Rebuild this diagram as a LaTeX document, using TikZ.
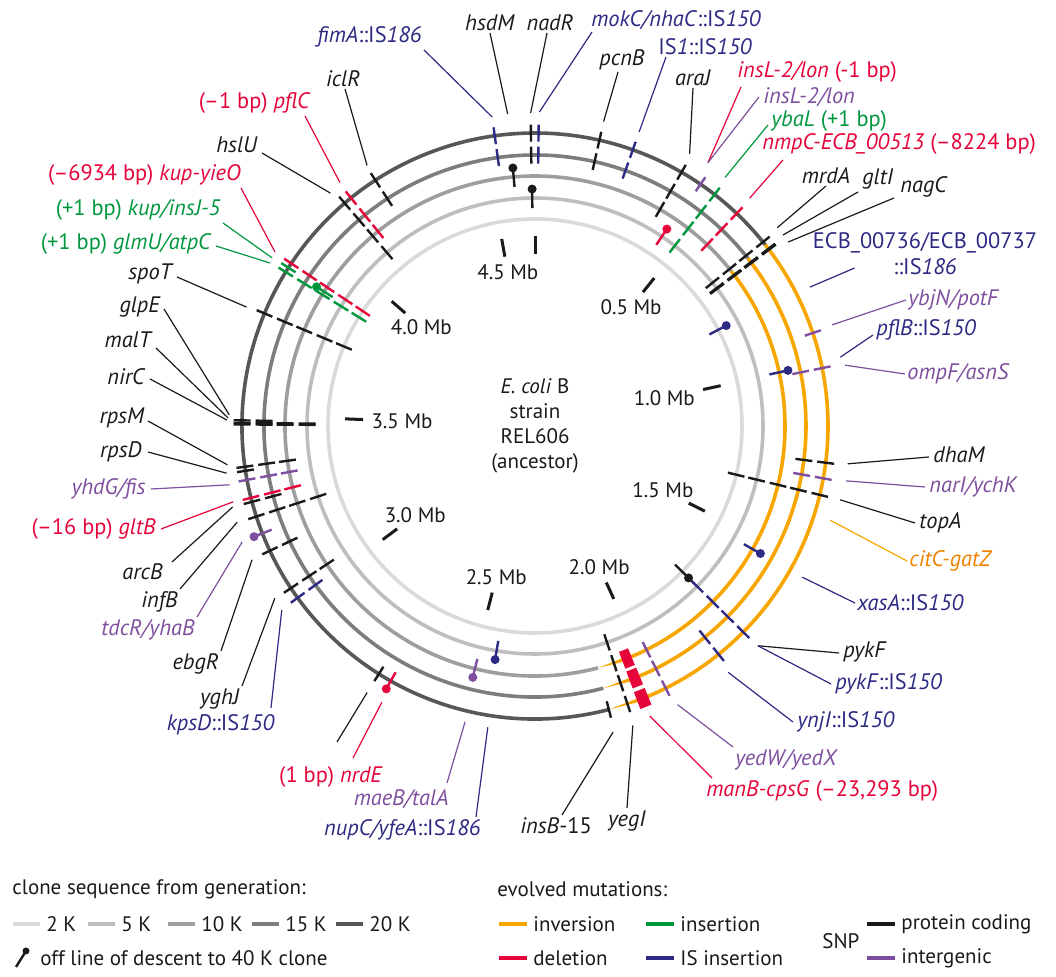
\documentclass[tikz,border=0pt]{standalone}
\usepackage{fontspec}
\setmainfont{PT Sans}
\usetikzlibrary{calc}
\definecolor{ring2}{HTML}{DADADA}
\definecolor{ring5}{HTML}{BEBEBE}
\definecolor{ring10}{HTML}{9E9E9E}
\definecolor{ring15}{HTML}{7D7D7D}
\definecolor{ring20}{HTML}{575757}
\definecolor{invorange}{HTML}{F7A600}
\definecolor{invtext}{HTML}{F08200}
\definecolor{delred}{HTML}{E5053A}
\definecolor{insgreen}{HTML}{00973F}
\definecolor{isblue}{HTML}{2D2A84}
\definecolor{codeblack}{HTML}{1A1A1A}
\definecolor{interpurple}{HTML}{7E4F9E}
\tikzset{
  ringline/.style={line width=1.8pt},
  mutline/.style={line width=1.2pt},
  leader/.style={line width=0.6pt},
  mbtick/.style={line width=1.5pt, draw=codeblack},
  lab/.style={inner sep=1pt, text=codeblack},
  glab/.style={lab, font=\fontsize{11.2}{13}\selectfont}
}
% dashes across every ring from ring #2 (1=2K ... 5=20K) outwards
\newcommand{\mutmark}[3]{%
  \foreach \rr [count=\ri] in {207,228,250,271,293}{%
    \ifnum\ri<#2\relax\else
      \draw[mutline,#3] ({#1}:{\rr-8.5}) -- ({#1}:{\rr+8.5});
    \fi}}
% off line of descent: one ring, dot outside
\newcommand{\lolli}[3]{%
  \draw[mutline,#3] ({#1}:{#2-10}) -- ({#1}:{#2+9});
  \fill[#3] ({#1}:{#2+9}) circle[radius=4.5]}

\begin{document}
\begin{tikzpicture}[x=0.5pt,y=-0.5pt,font=\fontsize{10.5}{12.5}\selectfont]
  \useasboundingbox (0,0) rectangle (1056,977);

  \begin{scope}[shift={(535,426)}]
    % clone rings
    \draw[ringline,ring2] (0,0) circle[radius=207];
    \draw[ringline,ring5] (0,0) circle[radius=228];
    \foreach \r/\col in {250/ring10,271/ring15,293/ring20}{
      \draw[ringline,\col] (75.4:\r) arc[start angle=75.4,end angle=321.8,radius=\r];
      \draw[ringline,invorange] (-38.2:\r) arc[start angle=-38.2,end angle=69.6,radius=\r];
      \fill[invorange] (75.4:\r) -- ({69.6}:{\r+1.8}) -- ({69.6}:{\r-1.8}) -- cycle;
      \draw[delred,line width=9pt] (67.3:\r) arc[start angle=67.3,end angle=69.6,radius=\r];
    }

    % Mb scale
    \draw[mbtick] (-90:172) -- (-90:190);
    \foreach \m [count=\k] in {0.5,1.0,1.5,2.0,2.5,3.0,3.5,4.0,4.5}{
      \pgfmathsetmacro\a{-90+\m*360/4.6298}
      \pgfmathsetmacro\b{-\a}
      \draw[mbtick] (\a:172) -- (\a:190);
      \node[lab,anchor=\b] (mb\k) at (\a:166) {\m\ Mb};
    }
    \node[lab,align=center] (ecoli) at (0,0) {\textit{E. coli} B\\strain\\REL606\\(ancestor)};

    % mutations
    \mutmark{-97.9}{4}{isblue}
    \lolli{-94.9}{250}{codeblack};
    \mutmark{-90.8}{4}{codeblack}
    \lolli{-90.7}{228}{codeblack};
    \mutmark{-89.3}{4}{isblue}
    \mutmark{-77.3}{4}{codeblack}
    \mutmark{-70.5}{4}{isblue}
    \mutmark{-60.0}{3}{codeblack}
    \lolli{-56.2}{228}{delred};
    \mutmark{-55.6}{5}{interpurple}
    \mutmark{-52.2}{2}{insgreen}
    \mutmark{-46.5}{3}{delred}
    \mutmark{-38.9}{2}{codeblack}
    \mutmark{-37.2}{2}{codeblack}
    \mutmark{-37.0}{2}{codeblack}
    \lolli{-27.7}{207}{isblue};
    \mutmark{-18.5}{5}{interpurple}
    \lolli{-12.4}{250}{isblue};
    \mutmark{-11.4}{4}{interpurple}
    \mutmark{7.2}{4}{codeblack}
    \mutmark{10.3}{4}{interpurple}
    \mutmark{13.6}{1}{codeblack}
    \lolli{29.5}{250}{isblue};
    \mutmark{44.7}{2}{isblue}
    \lolli{44.7}{207}{codeblack};
    \mutmark{51.2}{4}{isblue}
    \mutmark{63.5}{3}{interpurple}
    \mutmark{71.6}{2}{codeblack}
    \mutmark{75.4}{5}{codeblack}
    \lolli{99.7}{228}{isblue};
    \lolli{103.9}{250}{interpurple};
    \lolli{119.5}{293}{delred};
    \mutmark{122.2}{5}{codeblack}
    \mutmark{144.1}{4}{isblue}
    \mutmark{146.4}{3}{codeblack}
    \mutmark{154.8}{4}{codeblack}
    \lolli{158.5}{293}{interpurple};
    \mutmark{162.0}{2}{codeblack}
    \mutmark{165.0}{4}{codeblack}
    \mutmark{165.8}{3}{delred}
    \mutmark{169.4}{3}{interpurple}
    \mutmark{171.2}{5}{codeblack}
    \mutmark{172.0}{3}{codeblack}
    \mutmark{180.3}{2}{codeblack}
    \mutmark{180.6}{2}{codeblack}
    \mutmark{181.1}{4}{codeblack}
    \mutmark{202.6}{1}{codeblack}
    \mutmark{211.7}{1}{insgreen}
    \mutmark{212.7}{5}{insgreen}
    \lolli{212.5}{250}{insgreen};
    \mutmark{213.7}{1}{delred}
    \mutmark{229.5}{2}{codeblack}
    \mutmark{231.1}{3}{delred}
    \mutmark{237.0}{4}{codeblack}

    % leader ends
    \coordinate (fimA-m) at (-97.9:312);
    \coordinate (hsdM-m) at (-95.0:313);
    \coordinate (nadR-m) at (-90.8:313);
    \coordinate (mokC-m) at (-89.2:314);
    \coordinate (pcnB-m) at (-77.3:312);
    \coordinate (IS1-m) at (-70.5:312);
    \coordinate (araJ-m) at (-60.4:313);
    \coordinate (insL-m) at (-56.7:315);
    \coordinate (ybaL-m) at (-52.6:313);
    \coordinate (nmpC-m) at (-46.7:313);
    \coordinate (mrdA-m) at (-39.3:313);
    \coordinate (gltI-m) at (-37.6:313);
    \coordinate (nagC-m) at (-36.0:313);
    \coordinate (ECB-m) at (-26.8:308);
    \coordinate (ybjN-m) at (-18.8:314);
    \coordinate (pflB-m) at (-12.7:313);
    \coordinate (ompF-m) at (-11.1:316);
    \coordinate (dhaM-m) at (6.9:315);
    \coordinate (narI-m) at (10.0:316);
    \coordinate (topA-m) at (13.6:314);
    \coordinate (citC-m) at (17.7:310);
    \coordinate (xasA-m) at (29.5:307);
    \coordinate (pykF-m) at (44.6:313);
    \coordinate (ynjI-m) at (51.9:313);
    \coordinate (yedW-m) at (62.9:313);
    \coordinate (manB-m) at (68.4:312);
    \coordinate (yegI-m) at (71.9:315);
    \coordinate (insB-m) at (75.7:316);
    \coordinate (nupC-m) at (98.9:305);
    \coordinate (maeB-m) at (103.3:304);
    \coordinate (nrdE-m) at (119.0:316);
    \coordinate (nrdEsnp-m) at (122.2:315);
    \coordinate (kpsD-m) at (144.0:313);
    \coordinate (yghJ-m) at (146.5:312);
    \coordinate (ebgR-m) at (154.7:313);
    \coordinate (tdcR-m) at (158.4:315);
    \coordinate (infB-m) at (162.1:313);
    \coordinate (arcB-m) at (165.0:313);
    \coordinate (gltB-m) at (165.9:311);
    \coordinate (yhdG-m) at (169.1:311);
    \coordinate (rpsD-m) at (171.3:312);
    \coordinate (rpsM-m) at (172.8:310);
    \coordinate (nirC-m) at (181.1:308);
    \coordinate (malT-m) at (181.5:307);
    \coordinate (glpE-m) at (182.1:306);
    \coordinate (spoT-m) at (202.4:312);
    \coordinate (glmU-m) at (211.6:311);
    \coordinate (kupI-m) at (212.6:312);
    \coordinate (kupY-m) at (213.8:313);
    \coordinate (hslU-m) at (228.7:310);
    \coordinate (pflC-m) at (231.3:312);
    \coordinate (iclR-m) at (237.2:310);
  \end{scope}

  % labels, top
  \node[glab,text=isblue,anchor=south east] (fimA) at (424,50) {\textit{fimA}::IS\textit{186}};
  \node[glab,anchor=south] (hsdM) at (490,33) {\textit{hsdM}};
  \node[glab,anchor=south] (nadR) at (550,33) {\textit{nadR}};
  \node[glab,text=isblue,anchor=south west] (mokC) at (589,32) {\textit{mokC/nhaC}::IS\textit{150}};
  \node[glab,anchor=south] (pcnB) at (622,72) {\textit{pcnB}};
  \node[glab,text=isblue,anchor=south west] (IS1) at (656,57) {IS\textit{1}::IS\textit{150}};
  \node[glab,anchor=south] (araJ) at (693,88) {\textit{araJ}};
  \node[glab,text=delred,anchor=south west] (insLdel) at (735,85) {\textit{insL-2/lon} (-1 bp)};
  \node[glab,text=interpurple,anchor=west] (insLsnp) at (761,97) {\textit{insL-2/lon}};
  \node[glab,text=insgreen,anchor=west] (ybaL) at (769,121) {\textit{ybaL} (+1 bp)};
  \node[glab,text=delred,anchor=south west] (nmpC) at (760,157) {\textit{nmpC-ECB\_00513} (--8224 bp)};
  \node[glab,anchor=south] (mrdA) at (826,186) {\textit{mrdA}};
  \node[glab,anchor=south west] (gltI) at (860,192) {\textit{gltI}};
  \node[glab,anchor=south west] (nagC) at (898,200) {\textit{nagC}};

  % labels, right
  \node[glab,text=isblue,align=center,anchor=north] (ECB) at (925,230) {ECB\_00736/ECB\_00737\\::IS\textit{186}};
  \node[glab,text=interpurple,anchor=west] (ybjN) at (906,300) {\textit{ybjN/potF}};
  \node[glab,text=isblue,anchor=west] (pflB) at (874,330) {\textit{pflB}::IS\textit{150}};
  \node[glab,text=interpurple,anchor=west] (ompF) at (905,374) {\textit{ompF/asnS}};
  \node[glab,anchor=west] (dhaM) at (931,455) {\textit{dhaM}};
  \node[glab,text=interpurple,anchor=west] (narI) at (927,487) {\textit{narI/ychK}};
  \node[glab,anchor=west] (topA) at (917,523) {\textit{topA}};
  \node[glab,text=invtext,anchor=west] (citC) at (907,561) {\textit{citC-gatZ}};
  \node[glab,text=isblue,anchor=west] (xasA) at (855,603) {\textit{xasA}::IS\textit{150}};
  \node[glab,anchor=west] (pykF) at (841,652) {\textit{pykF}};
  \node[glab,text=isblue,anchor=west] (pykFIS) at (833,684) {\textit{pykF}::IS\textit{150}};
  \node[glab,text=isblue,anchor=west] (ynjI) at (795,722) {\textit{ynjI}::IS\textit{150}};

  % labels, bottom
  \node[glab,text=interpurple,anchor=north west] (yedW) at (733,747) {\textit{yedW/yedX}};
  \node[glab,text=delred,anchor=north west] (manB) at (704,778) {\textit{manB-cpsG} (--23,293 bp)};
  \node[glab,anchor=north] (yegI) at (627,808) {\textit{yegI}};
  \node[glab,anchor=north] (insB) at (556,815) {\textit{insB}-15};
  \node[glab,text=isblue,anchor=north east] (nupC) at (483,817) {\textit{nupC/yfeA}::IS\textit{186}};
  \node[glab,text=interpurple,anchor=north east] (maeB) at (451,787) {\textit{maeB/talA}};
  \node[glab,text=delred,anchor=north] (nrdE) at (331,764) {(1 bp) \textit{nrdE}};

  % labels, left
  \node[glab,text=isblue,anchor=north east] (kpsD) at (277,712) {\textit{kpsD}::IS\textit{150}};
  \node[glab,anchor=north east] (yghJ) at (242,686) {\textit{yghJ}};
  \node[glab,anchor=north east] (ebgR) at (221,651) {\textit{ebgR}};
  \node[glab,text=interpurple,anchor=north east] (tdcR) at (197,617) {\textit{tdcR/yhaB}};
  \node[glab,anchor=north east] (infB) at (180,589) {\textit{infB}};
  \node[glab,anchor=north east] (arcB) at (165,561) {\textit{arcB}};
  \node[glab,text=delred,anchor=east] (gltB) at (158,529) {(--16 bp) \textit{gltB}};
  \node[glab,text=interpurple,anchor=east] (yhdG) at (148,489) {\textit{yhdG/fis}};
  \node[glab,anchor=east] (rpsD) at (144,452) {\textit{rpsD}};
  \node[glab,anchor=east] (rpsM) at (147,418) {\textit{rpsM}};
  \node[glab,anchor=east] (nirC) at (148,377) {\textit{nirC}};
  \node[glab,anchor=south east] (malT) at (155,350) {\textit{malT}};
  \node[glab,anchor=east] (glpE) at (163,307) {\textit{glpE}};
  \node[glab,anchor=east] (spoT) at (176,274) {\textit{spoT}};
  \node[glab,text=insgreen,anchor=east] (glmU) at (214,244) {(+1 bp) \textit{glmU/atpC}};
  \node[glab,text=insgreen,anchor=south east] (kupI) at (223,223) {(+1 bp) \textit{kup/insJ-5}};
  \node[glab,text=delred,anchor=south east] (kupY) at (243,188) {(--6934 bp) \textit{kup-yieO}};
  \node[glab,anchor=south east] (hslU) at (260,155) {\textit{hslU}};
  \node[glab,text=delred,anchor=south east] (pflC) at (313,116) {(--1 bp) \textit{pflC}};
  \node[glab,anchor=south] (iclR) at (343,89) {\textit{iclR}};

  % leaders
  \draw[leader,isblue] (fimA.south east) -- (fimA-m);
  \draw[leader,codeblack] (hsdM.south) -- (hsdM-m);
  \draw[leader,codeblack] (nadR.south) ++(-3,0) -- (nadR-m);
  \draw[leader,isblue] (mokC.south west) ++(3,0) -- (mokC-m);
  \draw[leader,codeblack] (pcnB.south) ++(-4,0) -- (pcnB-m);
  \draw[leader,isblue] (IS1.south west) ++(10,0) -- (IS1-m);
  \draw[leader,codeblack] (araJ.south) -- (araJ-m);
  \draw[leader,delred] (insLdel.south west) ++(6,2) -- (insL-m);
  \draw[leader,interpurple] (insLsnp.west) ++(-2,0) -- (insL-m);
  \draw[leader,insgreen] (ybaL.west) ++(-1,4) -- (ybaL-m);
  \draw[leader,delred] (nmpC.south west) ++(23,3) -- (nmpC-m);
  \draw[leader,codeblack] (mrdA.south) -- (mrdA-m);
  \draw[leader,codeblack] (gltI.south west) ++(-2,0) -- (gltI-m);
  \draw[leader,codeblack] (nagC.south west) ++(-4,-2) -- (nagC-m);
  \draw[leader,isblue] (ECB.south west) ++(44,-9) -- (ECB-m);
  \draw[leader,interpurple] (ybjN.west) -- (ybjN-m);
  \draw[leader,isblue] (pflB.west) ++(-1,5) -- (pflB-m);
  \draw[leader,interpurple] (ompF.west) -- (ompF-m);
  \draw[leader,codeblack] (dhaM.west) ++(-2,2) -- (dhaM-m);
  \draw[leader,interpurple] (narI.west) ++(-2,0) -- (narI-m);
  \draw[leader,codeblack] (topA.west) ++(-2,0) -- (topA-m);
  \draw[leader,invorange] (citC.west) -- (citC-m);
  \draw[leader,isblue] (xasA.west) -- (xasA-m);
  \draw[leader,codeblack] (pykF.west) ++(-2,1) -- (pykF-m);
  \draw[leader,isblue] (pykFIS.west) ++(-2,0) -- (pykF-m);
  \draw[leader,isblue] (ynjI.west) ++(-2,0) -- (ynjI-m);
  \draw[leader,interpurple] (yedW.north west) -- (yedW-m);
  \draw[leader,delred] (manB.north west) ++(8,0) -- (manB-m);
  \draw[leader,codeblack] (yegI.north) -- (yegI-m);
  \draw[leader,codeblack] (insB.north) ++(6,0) -- (insB-m);
  \draw[leader,isblue] (nupC.north east) ++(-7,0) -- (nupC-m);
  \draw[leader,interpurple] (maeB.north east) ++(-4,-4) -- (maeB-m);
  \draw[leader,delred] (nrdE.north) ++(22,-6) -- (nrdE-m);
  \draw[leader,codeblack] (nrdE.north) ++(6,-22) -- (nrdEsnp-m);
  \draw[leader,isblue] (kpsD.north east) ++(-6,-4) -- (kpsD-m);
  \draw[leader,codeblack] (yghJ.north east) -- (yghJ-m);
  \draw[leader,codeblack] (ebgR.north east) -- (ebgR-m);
  \draw[leader,interpurple] (tdcR.north east) -- (tdcR-m);
  \draw[leader,codeblack] (infB.north east) -- (infB-m);
  \draw[leader,codeblack] (arcB.north east) ++(7,1) -- (arcB-m);
  \draw[leader,delred] (gltB.east) ++(3,0) -- (gltB-m);
  \draw[leader,interpurple] (yhdG.east) ++(3,0) -- (yhdG-m);
  \draw[leader,codeblack] (rpsD.east) ++(4,0) -- (rpsD-m);
  \draw[leader,codeblack] (rpsM.east) ++(1,3) -- (rpsM-m);
  \draw[leader,codeblack] (nirC.east) ++(2,2) -- (nirC-m);
  \draw[leader,codeblack] (malT.south east) ++(1,-2) -- (malT-m);
  \draw[leader,codeblack] (glpE.east) ++(1,2) -- (glpE-m);
  \draw[leader,codeblack] (spoT.east) ++(1,3) -- (spoT-m);
  \draw[leader,insgreen] (glmU.east) ++(2,2) -- (glmU-m);
  \draw[leader,insgreen] (kupI.south east) -- (kupI-m);
  \draw[leader,delred] (kupY.south east) ++(-2,0) -- (kupY-m);
  \draw[leader,codeblack] (hslU.south east) ++(2,-2) -- (hslU-m);
  \draw[leader,delred] (pflC.south east) ++(-8,0) -- (pflC-m);
  \draw[leader,codeblack] (iclR.south) ++(2,0) -- (iclR-m);

  % legend
  \node[lab,anchor=west] (clonehead) at (10,889) {clone sequence from generation:};
  \foreach \col/\x/\t [count=\k] in {ring2/13/2 K,ring5/88/5 K,ring10/168/10 K,ring15/252/15 K,ring20/336/20 K}{
    \draw[ringline,\col] (\x,924) -- ++(27,0);
    \node[lab,anchor=west] (gen\k) at (\x+31,924) {\t};
  }
  \draw[mutline,codeblack] (16,967) -- (26,951);
  \fill[codeblack] (26,951) circle[radius=3.5];
  \node[lab,anchor=west] (offline) at (38,958) {off line of descent to 40 K clone};

  \node[lab,anchor=west] (mutshead) at (495,889) {evolved mutations:};
  \foreach \col/\x/\y/\t [count=\k] in {invorange/499/924/inversion,insgreen/646/924/insertion,delred/499/958/deletion,isblue/646/958/IS insertion,codeblack/867/924/protein coding,interpurple/867/958/intergenic}{
    \draw[ringline,\col] (\x,\y) -- ++(28,0);
    \node[lab,anchor=west] (mut\k) at (\x+32,\y) {\t};
  }
  \node[lab,anchor=west] (snp) at (820,941) {SNP};
\end{tikzpicture}
\end{document}
